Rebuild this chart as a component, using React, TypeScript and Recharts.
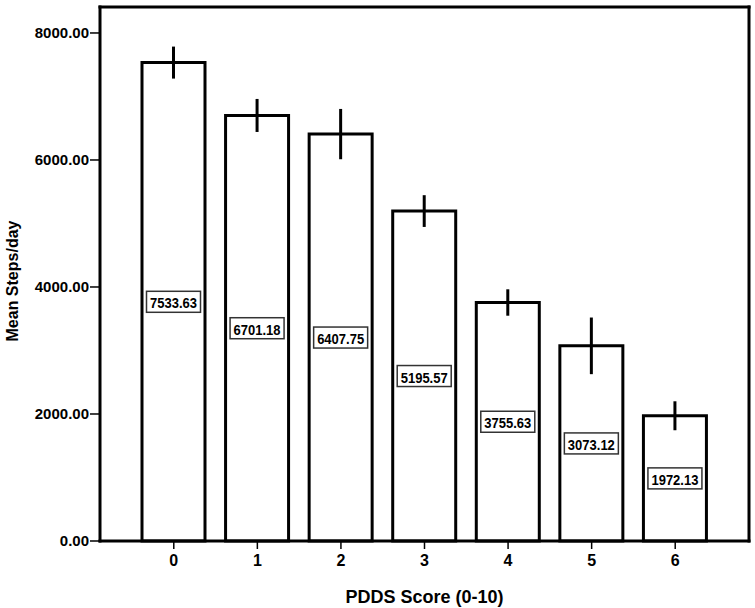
import React from "react";
import { Bar, BarChart, ErrorBar, LabelList, XAxis, YAxis } from "recharts";

// PDDS score categories and mean steps/day with error half-widths
const scores = ["0", "1", "2", "3", "4", "5", "6"];
const meanSteps = [7533.63, 6701.18, 6407.75, 5195.57, 3755.63, 3073.12, 1972.13];
const errHalf = [252, 260, 396, 250, 208, 446, 228];
const yTicks = [0, 2000, 4000, 6000, 8000];
const yMax = 8409;

const data = scores.map((score, i) => ({
  score,
  mean: meanSteps[i],
  err: errHalf[i],
}));

const FONT = "'Liberation Sans', Arial, sans-serif";
const axisStroke = { stroke: "#000", strokeWidth: 3, strokeLinecap: "square" as const };

const BoxLabel = (props: any) => {
  const vb = props.viewBox ?? props;
  const cx = vb.x + vb.width / 2;
  const cy = vb.y + vb.height / 2;
  const w = 54;
  const h = 21;
  return (
    <g>
      <rect
        x={cx - w / 2}
        y={cy - h / 2}
        width={w}
        height={h}
        fill="#fff"
        stroke="#333"
        strokeWidth={1.5}
      />
      <text
        x={cx}
        y={cy + 1}
        textAnchor="middle"
        dominantBaseline="central"
        fontFamily={FONT}
        fontWeight="bold"
        fontSize={15}
        textLength={47}
        lengthAdjust="spacingAndGlyphs"
        fill="#000"
      >
        {Number(props.value).toFixed(2)}
      </text>
    </g>
  );
};

const YLabel = (props: any) => {
  const vb = props.viewBox ?? { y: 7, height: 534 };
  const cy = vb.y + vb.height / 2 + 7;
  return (
    <text
      x={12.5}
      y={cy}
      transform={`rotate(-90, 12.5, ${cy})`}
      textAnchor="middle"
      dominantBaseline="central"
      fontFamily={FONT}
      fontWeight="bold"
      fontSize={16}
      fill="#000"
    >
      Mean Steps/day
    </text>
  );
};

export default function App() {
  return (
    <div style={{ position: "absolute", left: 0, top: 0, background: "#fff" }}>
      <BarChart
        width={755}
        height={608}
        data={data}
        margin={{ top: 6, right: 5, bottom: 0, left: 0 }}
      >
        <XAxis
          dataKey="score"
          height={67}
          padding={{ left: 32, right: 32 }}
          tickSize={8}
          tickMargin={6}
          tickLine={{ stroke: "#000", strokeWidth: 1.5 }}
          axisLine={axisStroke}
          tick={{ fill: "#000", fontSize: 16, fontWeight: "bold", fontFamily: FONT }}
          label={{
            value: "PDDS Score (0-10)",
            position: "insideBottom",
            offset: 5,
            style: { fill: "#000", fontSize: 18, fontWeight: "bold", fontFamily: FONT },
          }}
        />
        <XAxis
          xAxisId="top"
          orientation="top"
          dataKey="score"
          height={1}
          tick={false}
          tickLine={false}
          axisLine={axisStroke}
        />
        <YAxis
          width={100}
          domain={[0, yMax]}
          ticks={yTicks}
          tickFormatter={(v) => Number(v).toFixed(2)}
          tickSize={10}
          tickMargin={1}
          tickLine={{ stroke: "#000", strokeWidth: 1.5 }}
          axisLine={axisStroke}
          tick={{ fill: "#000", fontSize: 15, fontWeight: "bold", fontFamily: FONT }}
          label={YLabel}
        />
        <YAxis
          yAxisId="right"
          orientation="right"
          width={1}
          domain={[0, yMax]}
          ticks={[0, yMax]}
          tick={false}
          tickLine={false}
          axisLine={axisStroke}
        />
        <Bar
          dataKey="mean"
          fill="#fff"
          stroke="#000"
          strokeWidth={3}
          barSize={63}
          isAnimationActive={false}
        >
          <ErrorBar dataKey="err" width={0} stroke="#000" strokeWidth={3} />
          <LabelList dataKey="mean" content={BoxLabel} />
        </Bar>
      </BarChart>
    </div>
  );
}
